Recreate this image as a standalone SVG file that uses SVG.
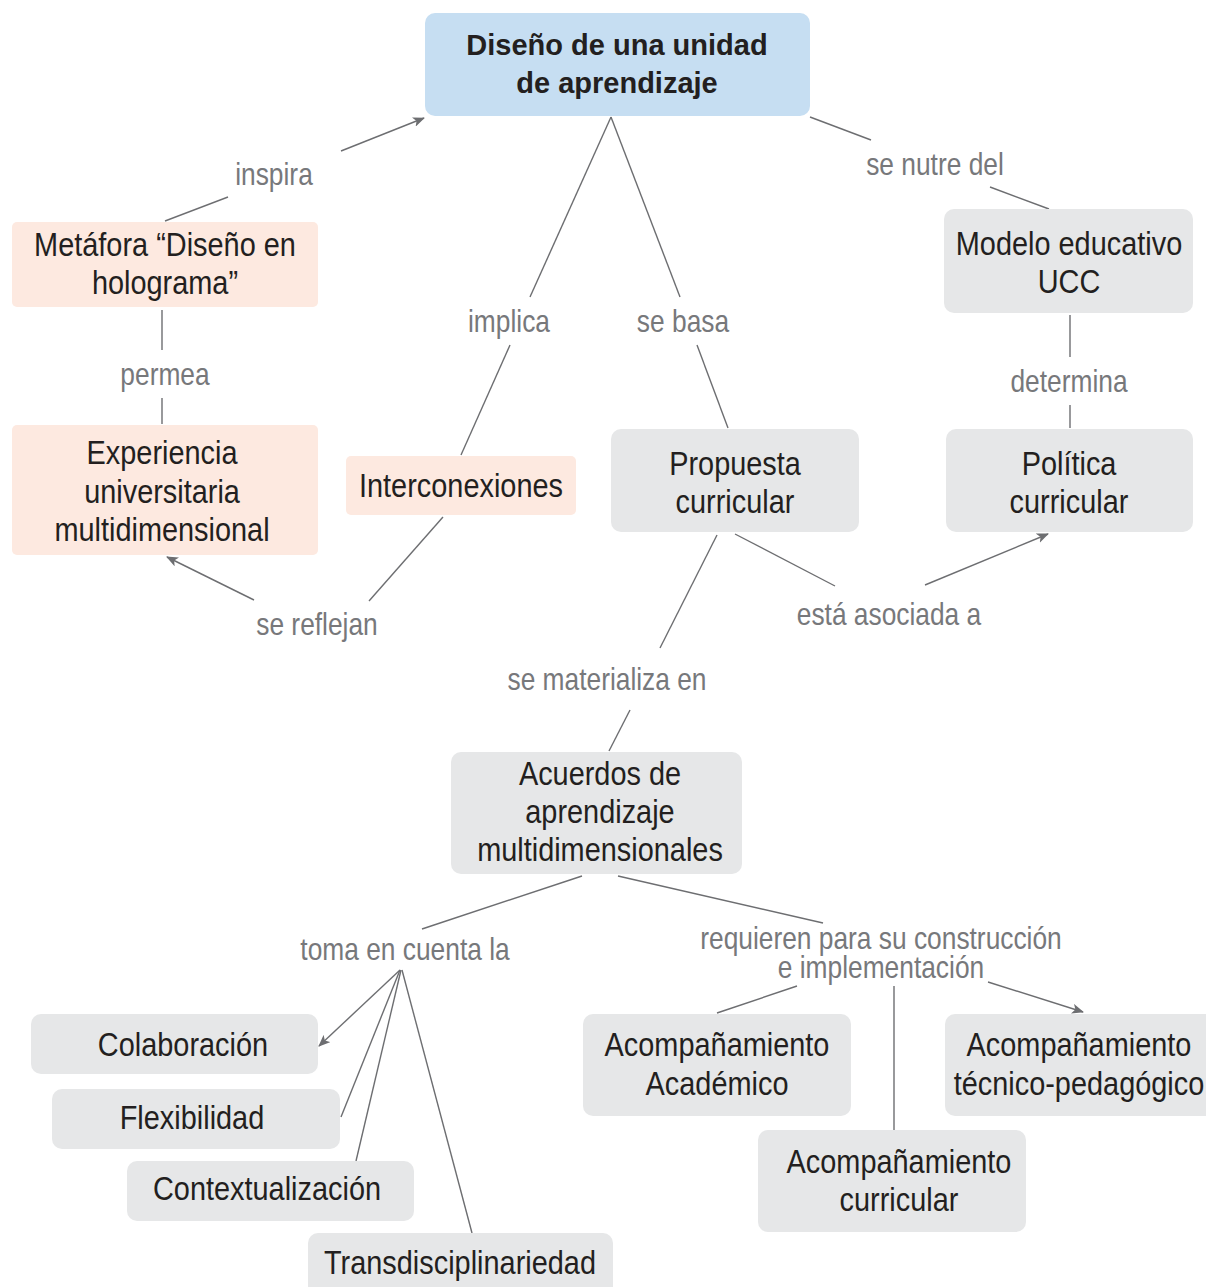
<svg xmlns="http://www.w3.org/2000/svg" width="1206" height="1287" viewBox="0 0 1206 1287">
<style>
.blue{fill:#c6def2}
.peach{fill:#fde9e0}
.gray{fill:#e6e7e8}
.nt,.lt{transform-box:fill-box;transform-origin:center;transform:scaleX(0.85)}
.nt{font-family:"Liberation Sans",Arial,sans-serif;font-size:34px;fill:#231f20;text-anchor:middle}
.tt{font-family:"Liberation Sans",Arial,sans-serif;font-size:29px;font-weight:bold;fill:#231f20;text-anchor:middle}
.lt{font-family:"Liberation Sans",Arial,sans-serif;font-size:31px;fill:#77787b;text-anchor:middle}
.ln{stroke:#6d6e71;stroke-width:1.4;fill:none}
</style>
<defs>
<marker id="ah" viewBox="0 0 12 10" refX="11" refY="5" markerWidth="12" markerHeight="10" markerUnits="userSpaceOnUse" orient="auto">
<path d="M0,0 L12,5 L0,10 L3,5 z" fill="#6d6e71"/>
</marker>
</defs>
<g id="connectors">
<line class="ln" x1="165" y1="221" x2="228" y2="197"/>
<line class="ln" x1="341" y1="151" x2="424" y2="118" marker-end="url(#ah)"/>
<line class="ln" x1="162" y1="310" x2="162" y2="350"/>
<line class="ln" x1="162" y1="398" x2="162" y2="424"/>
<line class="ln" x1="611" y1="117" x2="530" y2="297"/>
<line class="ln" x1="510" y1="345" x2="461" y2="455"/>
<line class="ln" x1="611" y1="117" x2="680" y2="297"/>
<line class="ln" x1="697" y1="345" x2="728" y2="428"/>
<line class="ln" x1="810" y1="117" x2="871" y2="140"/>
<line class="ln" x1="990" y1="187" x2="1049" y2="209"/>
<line class="ln" x1="1070" y1="315" x2="1070" y2="357"/>
<line class="ln" x1="1070" y1="405" x2="1070" y2="428"/>
<line class="ln" x1="443" y1="517" x2="369" y2="601"/>
<line class="ln" x1="254" y1="600" x2="167" y2="557" marker-end="url(#ah)"/>
<line class="ln" x1="735" y1="534" x2="835" y2="586"/>
<line class="ln" x1="925" y1="585" x2="1048" y2="534" marker-end="url(#ah)"/>
<line class="ln" x1="717" y1="535" x2="660" y2="648"/>
<line class="ln" x1="630" y1="710" x2="609" y2="751"/>
<line class="ln" x1="582" y1="876" x2="422" y2="929"/>
<line class="ln" x1="400" y1="970" x2="319" y2="1046" marker-end="url(#ah)"/>
<line class="ln" x1="400" y1="970" x2="341" y2="1117"/>
<line class="ln" x1="401" y1="970" x2="356" y2="1161"/>
<line class="ln" x1="402" y1="970" x2="472" y2="1233"/>
<line class="ln" x1="618" y1="876" x2="823" y2="923"/>
<line class="ln" x1="797" y1="986" x2="717" y2="1013"/>
<line class="ln" x1="894" y1="986" x2="894" y2="1130"/>
<line class="ln" x1="988" y1="982" x2="1083" y2="1012" marker-end="url(#ah)"/>
</g>
<g id="labels">
<text class="lt" x="274" y="185">inspira</text>
<text class="lt" x="165" y="385">permea</text>
<text class="lt" x="509" y="332">implica</text>
<text class="lt" x="683" y="332">se basa</text>
<text class="lt" x="935" y="175">se nutre del</text>
<text class="lt" x="1069" y="392">determina</text>
<text class="lt" x="317" y="635">se reflejan</text>
<text class="lt" x="889" y="625">está asociada a</text>
<text class="lt" x="607" y="690">se materializa en</text>
<text class="lt" x="405" y="960">toma en cuenta la</text>
<text class="lt" x="881" y="949">requieren para su construcción</text>
<text class="lt" x="881" y="978">e implementación</text>
</g>
<g id="n-diseno">
<rect class="blue" x="425" y="13" width="385" height="103" rx="10"/>
<text class="tt" x="617" y="55">Diseño de una unidad</text>
<text class="tt" x="617" y="93">de aprendizaje</text>
</g>
<g id="n-metafora">
<rect class="peach" x="12" y="222" width="306" height="85" rx="5"/>
<text class="nt" x="165" y="256">Metáfora “Diseño en</text>
<text class="nt" x="165" y="294">holograma”</text>
</g>
<g id="n-experiencia">
<rect class="peach" x="12" y="425" width="306" height="130" rx="5"/>
<text class="nt" x="162" y="464">Experiencia</text>
<text class="nt" x="162" y="503">universitaria</text>
<text class="nt" x="162" y="541">multidimensional</text>
</g>
<g id="n-interconexiones">
<rect class="peach" x="346" y="456" width="230" height="59" rx="5"/>
<text class="nt" x="461" y="497">Interconexiones</text>
</g>
<g id="n-propuesta">
<rect class="gray" x="611" y="429" width="248" height="103" rx="10"/>
<text class="nt" x="735" y="475">Propuesta</text>
<text class="nt" x="735" y="513">curricular</text>
</g>
<g id="n-modelo">
<rect class="gray" x="944" y="209" width="249" height="104" rx="10"/>
<text class="nt" x="1069" y="255">Modelo educativo</text>
<text class="nt" x="1069" y="293">UCC</text>
</g>
<g id="n-politica">
<rect class="gray" x="946" y="429" width="247" height="103" rx="10"/>
<text class="nt" x="1069" y="475">Política</text>
<text class="nt" x="1069" y="513">curricular</text>
</g>
<g id="n-acuerdos">
<rect class="gray" x="451" y="752" width="291" height="122" rx="10"/>
<text class="nt" x="600" y="785">Acuerdos de</text>
<text class="nt" x="600" y="823">aprendizaje</text>
<text class="nt" x="600" y="861">multidimensionales</text>
</g>
<g id="n-colaboracion">
<rect class="gray" x="31" y="1014" width="287" height="60" rx="10"/>
<text class="nt" x="183" y="1056">Colaboración</text>
</g>
<g id="n-flexibilidad">
<rect class="gray" x="52" y="1089" width="288" height="60" rx="10"/>
<text class="nt" x="192" y="1129">Flexibilidad</text>
</g>
<g id="n-contextualizacion">
<rect class="gray" x="127" y="1161" width="287" height="60" rx="10"/>
<text class="nt" x="267" y="1200">Contextualización</text>
</g>
<g id="n-transdisciplinariedad">
<rect class="gray" x="308" y="1233" width="305" height="70" rx="10"/>
<text class="nt" x="460" y="1274">Transdisciplinariedad</text>
</g>
<g id="n-academico">
<rect class="gray" x="583" y="1014" width="268" height="102" rx="10"/>
<text class="nt" x="717" y="1056">Acompañamiento</text>
<text class="nt" x="717" y="1095">Académico</text>
</g>
<g id="n-tecnico">
<rect class="gray" x="945" y="1014" width="275" height="102" rx="10"/>
<text class="nt" x="1079" y="1056">Acompañamiento</text>
<text class="nt" x="1079" y="1095">técnico-pedagógico</text>
</g>
<g id="n-curricular">
<rect class="gray" x="758" y="1130" width="268" height="102" rx="10"/>
<text class="nt" x="899" y="1173">Acompañamiento</text>
<text class="nt" x="899" y="1211">curricular</text>
</g>
</svg>
